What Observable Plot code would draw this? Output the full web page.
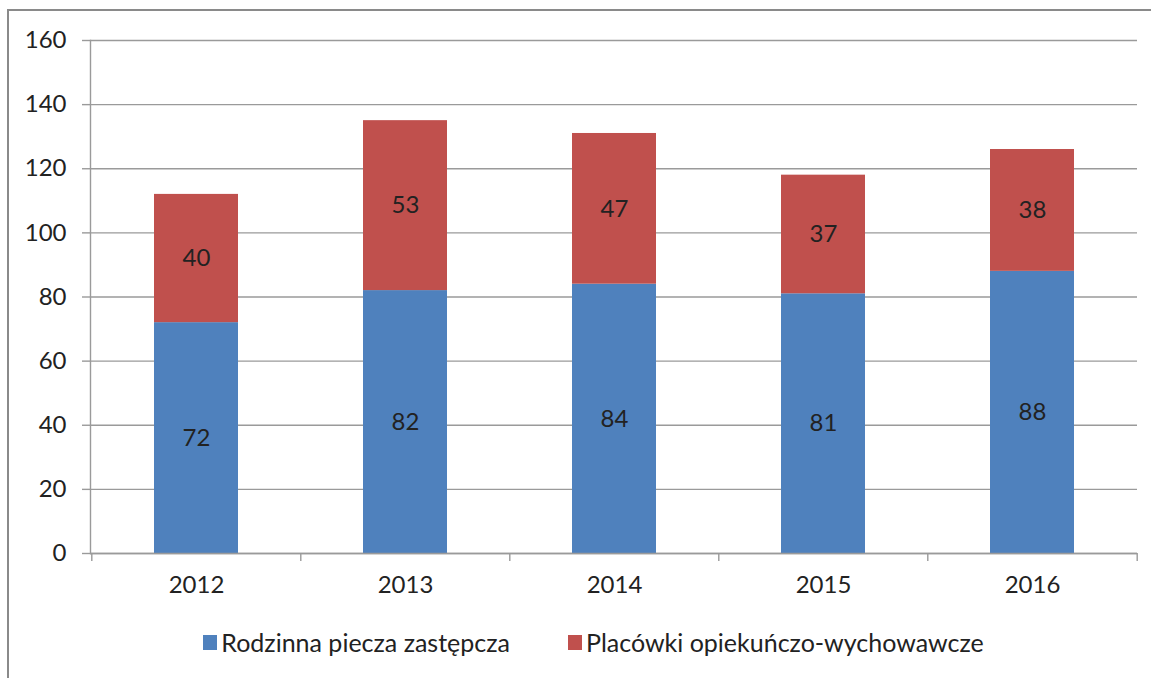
<!DOCTYPE html>
<html>
<head>
<meta charset="utf-8">
<script src="https://cdn.jsdelivr.net/npm/d3@7"></script>
<script src="https://cdn.jsdelivr.net/npm/@observablehq/plot@0.6"></script>
<style>
  html, body { margin: 0; padding: 0; background: #fff; overflow: hidden; }
  body { width: 1151px; height: 678px; position: relative; font-family: Lato, "Open Sans", sans-serif; }
  #frameTop { position: absolute; left: 7px; top: 9px; width: 1160px; height: 2px; background: #8a8a8a; z-index: 5; }
  #frameLeft { position: absolute; left: 7px; top: 9px; width: 2px; height: 700px; background: #8a8a8a; z-index: 5; }
  #chart { position: absolute; left: 0; top: 0; z-index: 1; }
  #legend { position: absolute; left: 18px; top: 627px; width: 1151px; display: flex; justify-content: center; gap: 58px; font-size: 25px; color: #222; z-index: 2; }
  .item { display: flex; align-items: center; gap: 4px; }
  .sw { width: 14px; height: 15px; display: inline-block; }
</style>
</head>
<body>
<div id="chart"></div>
<div id="legend"></div>
<div id="frameTop"></div>
<div id="frameLeft"></div>
<script>
const years = ["2012", "2013", "2014", "2015", "2016"];
const seriesNames = ["Rodzinna piecza zastępcza", "Placówki opiekuńczo-wychowawcze"];
const rodzinna = [72, 82, 84, 81, 88];
const placowki = [40, 53, 47, 37, 38];
const colors = ["#4F81BD", "#C0504D"];
const yTicks = [0, 20, 40, 60, 80, 100, 120, 140, 160];

const data = [];
years.forEach((y, i) => data.push({year: y, series: seriesNames[0], value: rodzinna[i]}));
years.forEach((y, i) => data.push({year: y, series: seriesNames[1], value: placowki[i]}));

const width = 1151, height = 610;
const marginLeft = 90, marginRight = 14, marginTop = 40, marginBottom = 57;
const step = (width - marginLeft - marginRight) / years.length;
const gridColor = "#9a9a9a";

const chart = Plot.plot({
  width, height, marginLeft, marginRight, marginTop, marginBottom,
  style: {fontFamily: "Lato, 'Open Sans', sans-serif", fontSize: "24px", color: "#222", background: "white"},
  x: {domain: years, paddingInner: 0.6, paddingOuter: 0.3, label: null},
  y: {domain: [0, 160], label: null},
  color: {domain: seriesNames, range: colors},
  marks: [
    Plot.gridY(yTicks, {stroke: gridColor, strokeOpacity: 1, strokeWidth: 1.4}),
    Plot.axisY(yTicks, {tickSize: 8, tickPadding: 16, stroke: gridColor, strokeWidth: 1.4, fontSize: 24, fill: "#222", label: null}),
    Plot.barY(data, Plot.stackY({x: "year", y: "value", z: "series", fill: "series", order: null})),
    Plot.ruleY([0], {stroke: gridColor, strokeWidth: 1.4}),
    Plot.frame({anchor: "left", stroke: gridColor, strokeWidth: 1.4}),
    Plot.axisX(years, {tickSize: 8, dx: -step / 2, text: null, stroke: gridColor, strokeWidth: 1.4, label: null}),
    Plot.axisX([years[years.length - 1]], {tickSize: 8, dx: step / 2, text: null, stroke: gridColor, strokeWidth: 1.4, label: null}),
    Plot.axisX(years, {tickSize: 0, tickPadding: 22, fontSize: 24, fill: "#222", label: null}),
    Plot.text(data, Plot.stackY({x: "year", y: "value", z: "series", text: "value", order: null, fill: "#222", fontSize: 24}))
  ]
});
document.getElementById("chart").appendChild(chart);

const legend = document.getElementById("legend");
seriesNames.forEach((name, i) => {
  const item = document.createElement("div");
  item.className = "item";
  const sw = document.createElement("span");
  sw.className = "sw";
  sw.style.background = colors[i];
  const label = document.createElement("span");
  label.textContent = name;
  item.appendChild(sw);
  item.appendChild(label);
  legend.appendChild(item);
});
</script>
</body>
</html>
